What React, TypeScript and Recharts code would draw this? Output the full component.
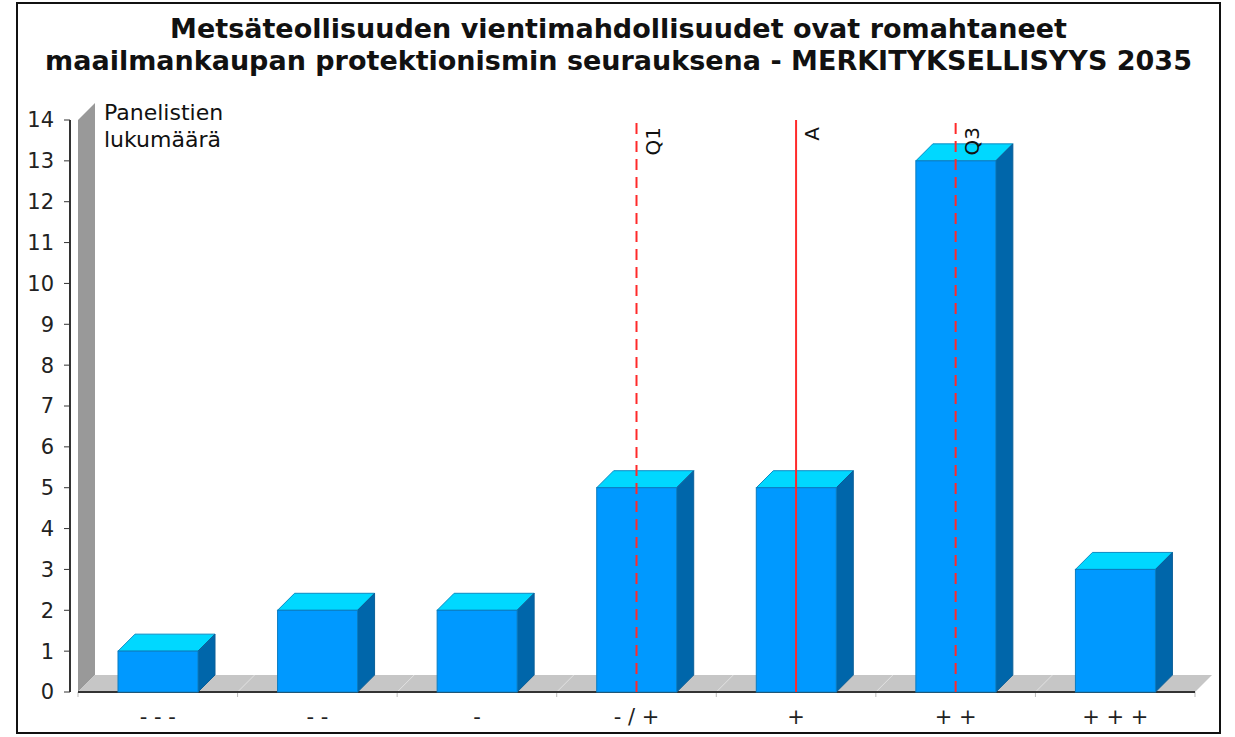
import React from 'react';
import { BarChart, Bar, XAxis, YAxis, ReferenceLine, ReferenceArea } from 'recharts';

const categories = ['- - -', '- -', '-', '- / +', '+', '+ +', '+ + +'];
const panelistCounts = [1, 2, 2, 5, 5, 13, 3];
const yTicks = [0, 1, 2, 3, 4, 5, 6, 7, 8, 9, 10, 11, 12, 13, 14];

// statistic markers drawn as vertical lines at a category
const markerCategories = ['- / +', '+', '+ +'];
const markerLabels = ['Q1', 'A', 'Q3'];
const markerDashed = [true, false, true];

const titleLines = [
  'Metsäteollisuuden vientimahdollisuudet ovat romahtaneet',
  'maailmankaupan protektionismin seurauksena - MERKITYKSELLISYYS 2035',
];
const yAxisTitle = ['Panelistien', 'lukumäärä'];

const chartData = categories.map((name, i) => ({ name, value: panelistCounts[i] }));

const DEPTH = 17;
const FONT = '"DejaVu Sans", Verdana, sans-serif';

const Bar3D = (props: any) => {
  const { x, y, width, height } = props;
  if (!height) return null;
  const d = DEPTH;
  return (
    <g>
      <polygon
        points={`${x},${y} ${x + d},${y - d} ${x + width + d},${y - d} ${x + width},${y}`}
        fill="#00d8ff"
        stroke="#0b8cc4"
        strokeWidth={1}
      />
      <polygon
        points={`${x + width},${y} ${x + width + d},${y - d} ${x + width + d},${y + height - d} ${x + width},${y + height}`}
        fill="#0066aa"
        stroke="#0a5f98"
        strokeWidth={1}
      />
      <rect x={x} y={y} width={width} height={height} fill="#0099ff" stroke="#0a7cc0" strokeWidth={1} />
    </g>
  );
};

// wall, floor, x axis line and boundary ticks, plus the y axis caption
const Backdrop = (props: any) => {
  const { x, y, width, height } = props;
  const d = DEPTH;
  const bottom = y + height;
  const band = width / categories.length;
  const bounds = Array.from({ length: categories.length + 1 }, (_, i) => x + i * band);
  return (
    <g>
      <polygon points={`${x},${bottom} ${x},${y} ${x + d},${y - d} ${x + d},${bottom - d}`} fill="#999999" />
      <polygon
        points={`${x},${bottom} ${x + d},${bottom - d} ${x + width + d},${bottom - d} ${x + width},${bottom}`}
        fill="#c6c6c6"
      />
      {bounds.slice(1, -1).map((bx, i) => (
        <line key={`sep-${i}`} x1={bx} y1={bottom} x2={bx + d} y2={bottom - d} stroke="#e2e2e2" strokeWidth={1} />
      ))}
      {bounds.map((bx, i) => (
        <line key={`tick-${i}`} x1={bx} y1={bottom} x2={bx} y2={bottom + 5} stroke="#bbbbbb" strokeWidth={1} />
      ))}
      <line x1={x} y1={bottom} x2={x + width} y2={bottom} stroke="#333333" strokeWidth={2} />
      <text x={x + 26} y={y} fontFamily={FONT} fontSize={22} fill="#111">
        <tspan x={x + 26} dy={0}>{yAxisTitle[0]}</tspan>
        <tspan x={x + 26} dy={27}>{yAxisTitle[1]}</tspan>
      </text>
    </g>
  );
};

const markerLabel = (text: string) => (props: any) => {
  const { viewBox } = props;
  const lx = viewBox.x + 23;
  const ly = viewBox.y + 7;
  return (
    <text
      x={lx}
      y={ly}
      transform={`rotate(-90 ${lx} ${ly})`}
      textAnchor="end"
      fontFamily={FONT}
      fontSize={20}
      fill="#111"
    >
      {text}
    </text>
  );
};

export default function App() {
  return (
    <div style={{ position: 'absolute', left: 0, top: 0, width: 1235, height: 737, background: '#fff' }}>
      <div
        style={{
          position: 'absolute',
          left: 16,
          top: 2,
          width: 1205,
          height: 732,
          boxSizing: 'border-box',
          border: '2px solid #111',
        }}
      />
      <div
        style={{
          position: 'absolute',
          left: 16,
          top: 13,
          width: 1205,
          textAlign: 'center',
          fontFamily: FONT,
          fontWeight: 'bold',
          fontSize: 27,
          lineHeight: '32px',
          color: '#111',
          whiteSpace: 'nowrap',
        }}
      >
        {titleLines.map((t) => (
          <div key={t}>{t}</div>
        ))}
      </div>
      <div style={{ position: 'absolute', left: 0, top: 0 }}>
        <BarChart width={1235} height={737} data={chartData} margin={{ top: 120, right: 40, bottom: 0, left: 0 }}>
          <XAxis
            dataKey="name"
            padding={{ left: 8, right: 0 }}
            axisLine={false}
            tickLine={false}
            height={45}
            tickMargin={11}
            interval={0}
            tick={{ fontFamily: FONT, fontSize: 21, fill: '#222' }}
          />
          <YAxis
            width={70}
            domain={[0, 14]}
            ticks={yTicks}
            interval={0}
            allowDecimals={false}
            axisLine={{ stroke: '#333', strokeWidth: 2 }}
            tickLine={{ stroke: '#333' }}
            tickSize={6}
            tickMargin={10}
            tick={{ fontFamily: FONT, fontSize: 21, fill: '#222' }}
          />
          <ReferenceArea y1={0} y2={14} shape={<Backdrop />} ifOverflow="visible" />
          <Bar dataKey="value" barSize={80} isAnimationActive={false} shape={<Bar3D />} />
          {markerCategories.map((cat, i) => (
            <ReferenceLine
              key={markerLabels[i]}
              x={cat}
              stroke="#ff2a2a"
              strokeWidth={2}
              strokeDasharray={markerDashed[i] ? '11 7' : undefined}
              label={markerLabel(markerLabels[i])}
              ifOverflow="visible"
            />
          ))}
        </BarChart>
      </div>
    </div>
  );
}
